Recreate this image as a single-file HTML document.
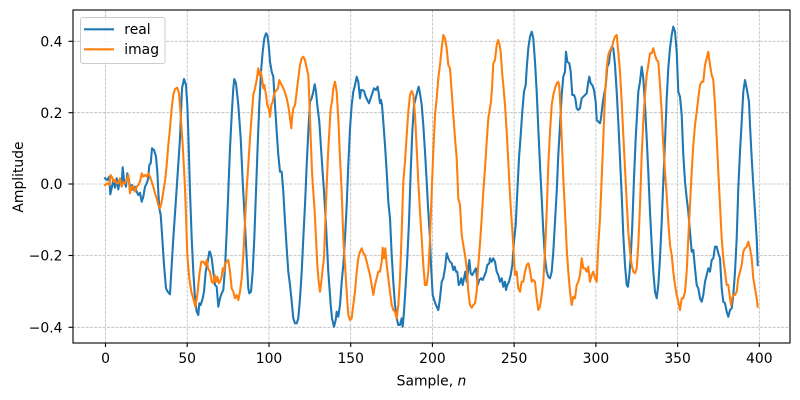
<!DOCTYPE html>
<html><head><meta charset="utf-8"><style>
html,body{margin:0;padding:0;background:#fff;}
svg{display:block;}
text{font-family:"DejaVu Sans","Liberation Sans",sans-serif;font-size:13.9px;fill:#000;}
</style></head><body>
<svg width="800" height="400" viewBox="0 0 800 400" xmlns="http://www.w3.org/2000/svg">
<rect x="0" y="0" width="800" height="400" fill="#fff"/>
<g stroke="#b0b0b0" stroke-width="0.8" stroke-dasharray="2.96,1.28" fill="none" opacity="0.85">
<line x1="105.5" y1="10" x2="105.5" y2="343"/>
<line x1="187.2" y1="10" x2="187.2" y2="343"/>
<line x1="269" y1="10" x2="269" y2="343"/>
<line x1="350.7" y1="10" x2="350.7" y2="343"/>
<line x1="432.4" y1="10" x2="432.4" y2="343"/>
<line x1="514.1" y1="10" x2="514.1" y2="343"/>
<line x1="595.9" y1="10" x2="595.9" y2="343"/>
<line x1="677.6" y1="10" x2="677.6" y2="343"/>
<line x1="759.3" y1="10" x2="759.3" y2="343"/>
<line x1="73" y1="41.3" x2="790" y2="41.3"/>
<line x1="73" y1="112.7" x2="790" y2="112.7"/>
<line x1="73" y1="184" x2="790" y2="184"/>
<line x1="73" y1="255.5" x2="790" y2="255.5"/>
<line x1="73" y1="327.3" x2="790" y2="327.3"/>
</g>
<g fill="none" stroke-width="2.08" stroke-linejoin="round" stroke-linecap="square">
<polyline stroke="#1f77b4" points="105,178.3 107.3,180 109.3,176.7 110.3,194.3 112,186.7 113.3,180 115,187.7 116.7,178.3 118.3,189.3 120,179 121.7,184.3 122.7,167.3 124,180 126,186.7 127.3,173.3 128.7,178.3 130,187.7 132,185 133.3,190 135,186.7 136.7,191.7 138.3,195 140,192.7 141.7,201.7 143.3,196.7 145,186.7 146.7,183.3 148.3,178.3 149.3,165 150.7,163.3 152,148.3 154,150 156,156.7 157.3,171.7 158.3,191.7 159.3,208.3 160.7,215 162.3,238.3 164,265 166,288.3 167.7,291.7 170,294.3 171.3,271.7 173.3,238.3 176.7,188.3 180,138.3 182,88.3 184,79 186,85 187.3,105 188.7,145 190,191.7 191.7,238.3 193.3,271.7 195,298.3 196.7,311.7 198.3,315 199.3,303.3 200.7,305 202.7,298.3 204,291.7 205.7,271.7 207.7,261.7 209.3,251.7 210,251.7 211.7,258.3 213.3,271.7 215,285 216.7,286.7 218.3,306.7 220,298.3 221.7,293.3 223.3,290 225,268.3 226.7,231.7 228.3,191.7 230,148.3 231.7,115 233.3,88.3 234.3,79 236,83.3 238.3,105 240.7,138.3 242.7,181.7 244.7,218.3 246.7,258.3 248.3,288.3 249.3,293.3 251,291.7 252.7,271.7 254.3,238.3 256,191.7 257.7,145 259.3,105 261,71.7 262.7,51.7 264.3,38.3 266,33.3 267.3,35 268.7,45 270,61.7 271.7,71.7 273.3,76.7 275,105 276.7,131.7 278.3,155 280,171.7 281.7,171.7 283.3,191.7 285,221.7 286.7,248.3 288.3,271.7 290,285 291.7,301.7 293.3,318.3 295,323.3 296.7,323.3 298.3,318.3 300,298.3 301.7,271.7 303.3,238.3 305,205 306.7,165 308.3,131.7 310,101.7 311.7,98.3 313.3,91.7 314.7,84.3 316,91.7 317.3,105 319.3,121.7 321.7,158.3 324,191.7 326,225 328.3,271.7 330.7,305 332,318.3 334,326.7 335.7,320 336.7,311.7 338.3,316.7 340,305 341.7,281.7 343.3,265 345,238.3 346.7,205 348.3,165 350,128.3 351.7,105 353.3,91.7 355,85 356.7,76.7 358.3,81.7 360,98.3 361,90 362.3,90 364,91 365.7,96.7 367.3,100 369,103.3 370.7,98.3 372.3,93.3 374,88.3 376,90 377.7,86.7 378.7,93.3 380,103.3 381,100 382,105 383.3,121.7 385,145 386.7,171.7 388.3,201.7 390,218.3 391.7,255 393.3,281.7 395,305 396.7,318.3 398.3,325 400,325 401.7,318.3 402.7,326.7 404,311.7 405.7,285 407.3,258.3 409,221.7 410.7,171.7 412.3,131.7 414,105 415.7,98.3 417.3,91.7 418.7,86.7 420,93.3 421.7,105 423.3,125 425,151.7 426.7,181.7 428.3,211.7 430,238.3 431,265 432.7,295 434.7,301.7 436.7,306.7 438.3,310 440,298.3 441.7,281.7 443.3,278.3 445,268.3 446.7,253.3 448.3,258.3 450,261.7 451.7,263.3 453.3,270 454.7,266.7 456,271.7 457.3,271.7 458.7,285 460,283.3 461.3,278.3 462.7,285 464,278.3 465.3,271.7 466.7,281.7 468.3,268.3 469.3,260 470.7,273.3 472.3,275 474,271.7 476,268.3 477.7,285 479.3,280 481,278.3 482.7,280 484.7,275 486,271.7 487.3,265 489.3,263.3 490,258.3 491.7,261.7 493.3,258.3 495,261.7 496.7,271.7 498.3,275 500,281.7 501.7,278.3 503.3,286.7 505,281.7 506,290 507.3,285 509,281.7 510.7,275 512.3,265 514,241.7 515.7,225 517.3,191.7 519,158.3 520.7,135 522.3,111.7 524,91.7 525.7,85 526.7,68.3 528.3,48.3 530,36.7 531.7,31.7 533.3,38.3 535,61.7 536.7,91.7 538.3,128.3 540,165 541.7,198.3 543.3,231.7 545,258.3 546.7,271.7 548.3,276.7 550,278.3 551.7,271.7 553.3,251.7 555,221.7 556.7,191.7 558.3,155 560,125 561.7,95 563.3,76.7 565,71.7 566,51.7 567.3,61.7 569.3,63.3 570.7,71.7 572.3,95 574,95 575.3,98.3 576.7,108.3 578.3,110 580,108.3 581.7,98.3 583.3,96.7 585,95 586.7,93.3 588.3,81.7 589.3,76.7 590.7,83.3 592.3,85 594,90 595.7,101.7 596.7,120 598.3,121.7 600,123.3 601,118.3 602.7,103.3 604,95 605.7,86.7 607.3,66.7 609,63.3 610,53.3 611.7,46.7 613.3,48.3 615,65 616.7,91.7 618.3,121.7 620,158.3 621.7,195 623.3,235 625,265 626.7,285 628,286.7 629.3,275 630.7,258.3 632.3,225 634,178.3 635.7,138.3 638.3,91.7 640,81.7 641.7,66.7 643.3,78.3 645,105 646.7,138.3 648.3,171.7 650,211.7 651.7,245 653.3,271.7 655,291.7 656.7,298.3 658.3,285 660,258.3 661.7,221.7 663.3,181.7 665,141.7 666.7,98.3 668.3,68.3 670,48.3 671.7,35 673.3,26.7 675,31.7 676.7,51.7 678.3,91.7 680,96.7 681.7,115 683.3,155 685,181.7 686.7,198.3 688.3,211.7 690,231.7 691.7,251.7 693.3,250 695,268.3 696.7,285 698.3,288.3 700,298.3 701.7,301.7 703.3,295 705,281.7 706.7,275 708.3,268.3 710,271.7 711.7,260 713.3,258.3 715,246.7 716.7,246.7 718.3,253.3 720,258.3 721.7,288.3 723.3,301.7 725,303.3 726.7,311.7 728.3,316.7 730,310 731.7,308.3 733.3,295 735,271.7 736.7,238.3 738.3,188.3 740,151.7 741.7,121.7 743.3,91.7 745,80 746.7,88.3 749,101.7 750,125 751.7,158.3 753.3,185 755,211.7 756.7,238.3 757.7,265"/>
<polyline stroke="#ff7f0e" points="105,185 107.3,183.3 109.3,185 110.7,175 112.3,177.7 113.7,181.7 115,180 116.7,183.3 118.3,183.3 120,178.3 121.7,186.7 123.3,182.3 125,183.3 126.7,180 128.3,175 130,193.3 131.7,186.7 133.3,186.7 135,191.7 136.7,186.7 138.3,185 140,181.7 141.7,173.3 143.3,176.7 145,175 146.7,176.7 148.3,173.3 150,176.7 151.7,181.7 153.3,186.7 155,193.3 156.7,198.3 158.3,205 160,208.3 161.7,201.7 163.3,191.7 165,181.7 166.7,165 168.3,145 170,128.3 171.7,108.3 173.3,95 175,89 177.3,87.7 179,93.3 180.7,115 182.7,145 184.7,181.7 186,215 187.3,255 189.3,278.3 191.3,291.7 193.3,298.3 195.3,306.7 197.3,295 199.3,275 201.3,261.7 203.3,261.7 205.3,265 206.7,260 208,268.3 210,271.7 211.7,281.7 213.3,283.3 214.7,275 216,281.7 217.3,276.7 218.7,283.3 220,281.7 221.7,276.7 222.7,268.3 224,271.7 225,263.3 226.7,261.7 228.3,260 230,271.7 231.7,288.3 233.3,291.7 235,298.3 236.7,295 238.3,300 240,291.7 241.7,278.3 243.3,255 245,221.7 246.7,188.3 248.3,165 250,138.3 251.7,115 253.3,95 255,88.3 256.7,80 258.3,68.3 259.3,75 260.7,71.7 262,78.3 263.3,88.3 264.3,85 266,95 267.3,105 268.7,108.3 270,116.7 271.3,105 272.7,101.7 274,95 275.3,91.7 276.7,90 278,88.3 279.3,80 280.7,83.3 282.7,86.7 284.7,91.7 286.7,98.3 288.7,108.3 290,118.3 291.3,128.3 292,118.3 293.3,108.3 295,105 296.7,91.7 298.3,78.3 300,65 301.7,58.3 303.3,56.7 305,60 306.7,68.3 308.3,75 309.3,98.3 310.7,138.3 312,171.7 313.3,191.7 314.7,211.7 316,238.3 317.3,265 318.7,281.7 320,291.7 321.3,281.7 322.7,268.3 324,258.3 325.3,221.7 326.7,185 328,155 329.3,131.7 330.7,108.3 332,101.7 333.3,88.3 335,81.7 336.7,91.7 338.3,118.3 340,158.3 341.7,191.7 343.3,238.3 345,265 346.7,291.7 348.3,315 350,320 351.7,318.3 353.3,305 355,291.7 356.7,271.7 358.3,258.3 360,251.7 361.7,248.3 363.3,253.3 365,255 366.7,261.7 368.3,268.3 370,275 371.7,285 373.3,295 375,285 376.7,278.3 378.3,271.7 380,271.7 381.7,261.7 382.7,247.7 384,258.3 385.3,248.3 386.7,265 388.3,278.3 390,291.7 391.7,305 393.3,310 395,311.7 396.7,318.3 398.3,305 400,278.3 401.7,231.7 403.3,181.7 405,161.7 406.7,135 408.3,111.7 410,95 411.7,91 413.3,95 415,115 416.7,148.3 418.3,181.7 420,211.7 421.7,238.3 423.3,265 425,285 426.7,285 428.3,271.7 430,238.3 431.7,191.7 433.3,151.7 435,115 436.7,98.3 438.3,78.3 440,65 441.7,48.3 443.3,35 445,38.3 446.7,48.3 448.3,65 450,68.3 451.7,91.7 453.3,115 455,138.3 456.7,158.3 458.3,198.3 460,205 461.7,235 463.3,245 465,255 466.7,268.3 468.3,291.7 470,305 471.7,307.7 473.3,305 475,303.3 476.7,291.7 478.3,265 480,243.3 481.7,218.3 483.3,191.7 485,168.3 486.7,141.7 488.3,118.3 491,101.7 492,88.3 493.3,63.3 495,60 496.7,45 498,40 499.3,43.3 500.7,51.7 502,71.7 503.3,85 505,105 506.7,131.7 508.3,161.7 510,195 511.7,221.7 513.3,245 515,275 516.7,271.7 518.3,288.3 520,291.7 521.7,281.7 523.3,281.7 525,271.7 526.7,265 528.3,263.3 530,270 531.7,281.7 533.3,280 535,281.7 536.7,298.3 538.3,310 540,306.7 541.7,295 543.3,281.7 545,251.7 546.7,211.7 548.3,165 550,131.7 551.7,105 553.3,95 555,88.3 556.7,83.3 558.3,81.7 559.3,86.7 560.7,111.7 562,145 563.3,178.3 565,211.7 566.7,248.3 568.3,271.7 570,291.7 571.7,305 573.3,296.7 575,298.3 576.7,285 578.3,281.7 580,275 581.7,258.3 583.3,268.3 585,268.3 586.7,271.7 588.3,266.7 590,281.7 591.7,275 593.3,271.7 595,278.3 596.7,281.7 598.3,245 600,218.3 601.7,178.3 603.3,138.3 605,95 606.7,68.3 608.3,55 610,50 611.7,48.3 613.3,41.7 615,36.7 616.7,35 618.3,51.7 620,71.7 621.7,101.7 623.3,135 625,168.3 626.7,201.7 628.3,231.7 630,251.7 631.7,265 633.3,271.7 635,273.3 636.7,268.3 638.3,245 640,205 641.7,155 643.3,121.7 645,95 646.7,75 648.3,65 650,53.3 651.7,53.3 653.3,48.3 655,55 656.7,60 658.3,61.7 660,85 661.7,111.7 663.3,145 665,171.7 666.7,195 668.3,221.7 670,245 671.7,255 673.3,271.7 675,285 676.7,295 678.3,301.7 680,310 681.7,298.3 683.3,298.3 685,291.7 686.7,271.7 688.3,238.3 690,205 691.7,171.7 693.3,145 695,125 696.7,111.7 698.3,98.3 700,85 701.7,81.7 703.3,81.7 705,65 706.7,58.3 708.3,51.7 710,65 711.7,75 713.3,80 715,105 716.7,138.3 718.3,171.7 720,205 721.7,238.3 723.3,258.3 725,271.7 726.7,285 728.3,285 730,298.3 731,305 732,298.3 733.3,295 735,295 736.7,291.7 738.3,278.3 740,271.7 741.7,265 743.3,251.7 745,248.3 746.7,246.7 748.3,241.7 750,248.3 751.7,258.3 753.3,278.3 755,288.3 756.7,298.3 757.7,306.7"/>
</g>
<rect x="73" y="10" width="717" height="333" fill="none" stroke="#000" stroke-width="1.1"/>
<g stroke="#000" stroke-width="1.1">
<line x1="105.5" y1="343" x2="105.5" y2="347"/>
<line x1="187.2" y1="343" x2="187.2" y2="347"/>
<line x1="269" y1="343" x2="269" y2="347"/>
<line x1="350.7" y1="343" x2="350.7" y2="347"/>
<line x1="432.4" y1="343" x2="432.4" y2="347"/>
<line x1="514.1" y1="343" x2="514.1" y2="347"/>
<line x1="595.9" y1="343" x2="595.9" y2="347"/>
<line x1="677.6" y1="343" x2="677.6" y2="347"/>
<line x1="759.3" y1="343" x2="759.3" y2="347"/>
<line x1="68.5" y1="41.3" x2="73" y2="41.3"/>
<line x1="68.5" y1="112.7" x2="73" y2="112.7"/>
<line x1="68.5" y1="184" x2="73" y2="184"/>
<line x1="68.5" y1="255.5" x2="73" y2="255.5"/>
<line x1="68.5" y1="327.3" x2="73" y2="327.3"/>
</g>
<g text-anchor="middle">
<text x="105.5" y="363">0</text>
<text x="187.2" y="363">50</text>
<text x="269" y="363">100</text>
<text x="350.7" y="363">150</text>
<text x="432.4" y="363">200</text>
<text x="514.1" y="363">250</text>
<text x="595.9" y="363">300</text>
<text x="677.6" y="363">350</text>
<text x="759.3" y="363">400</text>
</g>
<g text-anchor="end">
<text x="62.5" y="46.4">0.4</text>
<text x="62.5" y="117.8">0.2</text>
<text x="62.5" y="189.1">0.0</text>
<text x="62.5" y="260.6">−0.2</text>
<text x="62.5" y="332.4">−0.4</text>
</g>
<text x="431.5" y="385.5" text-anchor="middle">Sample, <tspan font-style="italic">n</tspan></text>
<text transform="translate(23,177) rotate(-90)" text-anchor="middle">Amplitude</text>
<rect x="80.5" y="17.5" width="84.5" height="46" rx="2.5" ry="2.5" fill="#fff" fill-opacity="0.8" stroke="#cccccc" stroke-width="1"/>
<line x1="84" y1="29.3" x2="114" y2="29.3" stroke="#1f77b4" stroke-width="2.08"/>
<line x1="84" y1="49.3" x2="114" y2="49.3" stroke="#ff7f0e" stroke-width="2.08"/>
<text x="124.3" y="34.2">real</text>
<text x="124.3" y="54.2">imag</text>
</svg>
</body></html>
